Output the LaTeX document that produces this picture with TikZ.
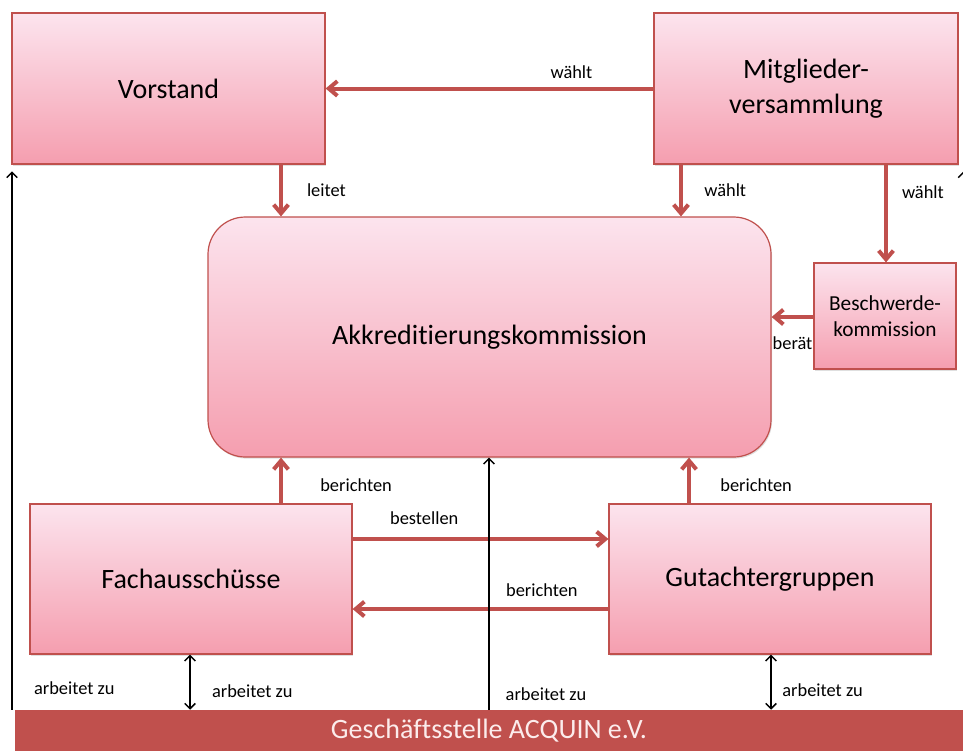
\documentclass[tikz,border=0pt]{standalone}
\usepackage{fontspec}
\setmainfont{Carlito}[Ligatures=NoCommon]
\usepackage{tikz}
\usetikzlibrary{arrows.meta,positioning,shadows}
\usepackage{xcolor}

\definecolor{acqred}{RGB}{192,80,77}
\definecolor{boxtop}{RGB}{252,228,238}
\definecolor{boxbot}{RGB}{245,158,175}
\definecolor{bartext}{RGB}{252,236,236}

\tikzset{
  orgbox/.style={draw=acqred, line width=0.9pt, top color=boxtop, bottom color=boxbot,
    align=center, inner sep=0pt, font=\fontsize{21}{24}\selectfont,
    drop shadow={opacity=0.25, shadow xshift=0.8pt, shadow yshift=-1.2pt}},
  lbl/.style={font=\fontsize{13.8}{16}\selectfont, inner sep=1pt},
  flow/.style={draw=acqred, line width=3pt, -{Straight Barb[length=6.5pt,width=11pt]}},
  work/.style={draw=black, line width=1.1pt, -{Straight Barb[length=4pt,width=8pt]}},
  workboth/.style={draw=black, line width=1.1pt,
    {Straight Barb[length=4pt,width=8pt]}-{Straight Barb[length=4pt,width=8pt]}}
}

\begin{document}
\begin{tikzpicture}[x=0.75pt, y=-0.75pt]
  \useasboundingbox (0,0) rectangle (963,751);

  % Boards
  \node[orgbox, minimum width=234.75pt, minimum height=113.25pt] (vorstand) at (168.5,88.5) {Vorstand};
  \node[orgbox, font=\fontsize{21}{26}\selectfont, minimum width=228pt, minimum height=113.25pt] (mv) at (806,88.5) {Mitglieder-\\versammlung};
  \node[orgbox, rounded corners=28pt, minimum width=422.25pt, minimum height=180pt] (akk) at (489.5,337) {Akkreditierungskommission};
  \node[orgbox, font=\fontsize{16}{19.5}\selectfont, minimum width=106.5pt, minimum height=79.5pt] (bk) at (885,316) {Beschwerde-\\kommission};
  \node[orgbox, minimum width=241.5pt, minimum height=112.5pt] (fa) at (191,579) {Fachausschüsse};
  \node[orgbox, minimum width=241.5pt, minimum height=112.5pt] (gg) at (770,579) {Gutachtergruppen};

  % Office bar
  \node[fill=acqred, text=bartext, inner sep=0pt, minimum width=711pt, minimum height=30.75pt,
    font=\fontsize{21}{24}\selectfont] (gs) at (489,730.5) {Geschäftsstelle ACQUIN e.V.};

  % Columns and rows of the connectors
  \coordinate (xa) at (281,0);
  \coordinate (xb) at (681,0);
  \coordinate (xc) at (886,0);
  \coordinate (xd) at (689,0);
  \coordinate (xm) at (489,0);
  \coordinate (xf) at (190,0);
  \coordinate (xg) at (771,0);
  \coordinate (xl) at (12,0);
  \coordinate (xr) at (963.5,0);
  \coordinate (yt) at (0,539);
  \coordinate (yb) at (0,609);
  \coordinate (ys) at (0,317);

  % Red connectors
  \draw[flow] (mv.west) -- (vorstand.east) node[lbl, pos=0.25, above=5pt] {wählt};
  \draw[flow] (vorstand.south -| xa) -- (akk.north -| xa) node[lbl, midway, right=17pt] {leitet};
  \draw[flow] (mv.south -| xb) -- (akk.north -| xb) node[lbl, midway, right=15pt] {wählt};
  \draw[flow] (mv.south -| xc) -- (bk.north -| xc) node[lbl, pos=0.28, right=9.5pt] {wählt};
  \draw[flow] (bk.west |- ys) -- (akk.east |- ys) node[lbl, midway, below=12pt] {berät};
  \draw[flow] (fa.north -| xa) -- (akk.south -| xa) node[lbl, pos=0.4, right=27pt] {berichten};
  \draw[flow] (gg.north -| xd) -- (akk.south -| xd) node[lbl, pos=0.4, right=21pt] {berichten};
  \draw[flow] (fa.east |- yt) -- (gg.west |- yt) node[lbl, pos=0.28, above=8pt] {bestellen};
  \draw[flow] (gg.west |- yb) -- (fa.east |- yb) node[lbl, pos=0.26, above=7pt] {berichten};

  % Black connectors from the office
  \draw[work, shorten >=5pt] (gs.north -| xl) -- (vorstand.south -| xl) node[lbl, pos=0.04, right=15pt] {arbeitet zu};
  \draw[work, shorten >=5pt] (gs.north -| xr) -- (mv.south -| xr);
  \draw[work] (gs.north -| xm) -- (akk.south -| xm) node[lbl, pos=0.063, right=11pt] {arbeitet zu};
  \draw[workboth] (fa.south -| xf) -- (gs.north -| xf) node[lbl, pos=0.66, right=15pt] {arbeitet zu};
  \draw[workboth] (gg.south -| xg) -- (gs.north -| xg) node[lbl, pos=0.64, right=7pt] {arbeitet zu};
\end{tikzpicture}
\end{document}
